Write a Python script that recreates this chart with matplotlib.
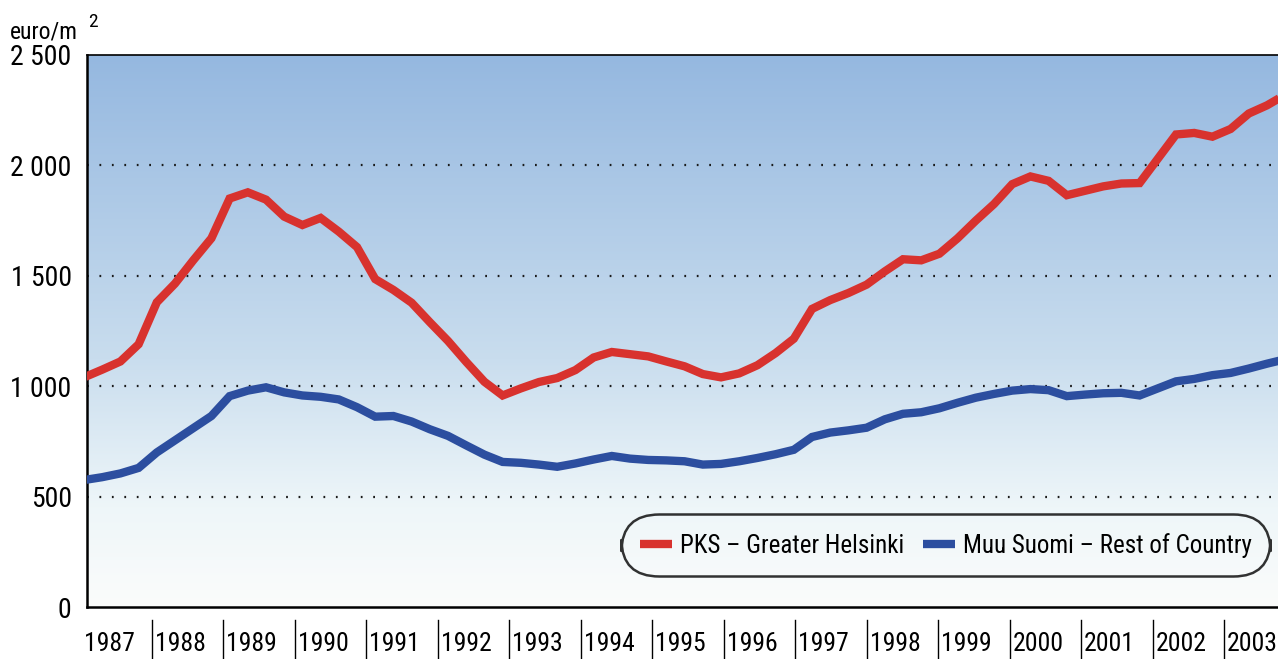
import matplotlib
matplotlib.use("Agg")
import matplotlib.pyplot as plt
import numpy as np
from matplotlib.colors import LinearSegmentedColormap
from matplotlib import font_manager as fm

# pick a condensed sans if available
def pick_font():
    prefs = ["Liberation Sans Narrow", "Roboto Condensed", "Open Sans Condensed",
             "Noto Sans Condensed", "DejaVu Sans Condensed"]
    entries = fm.fontManager.ttflist
    for p in prefs:
        for e in entries:
            if e.name == p and e.weight in (400, "normal", "regular") and e.style == "normal":
                return e.fname
    for e in entries:
        if (e.stretch in ("condensed", "semi-condensed") or "Condensed" in e.fname
                or "Narrow" in e.fname) and e.style == "normal" and \
                str(e.weight) in ("400", "normal", "regular") and "Sans" in e.name:
            return e.fname
    return None

FONT_FILE = pick_font()
plt.rcParams['font.family'] = ['Open Sans', 'DejaVu Sans']

def fp(size):
    if FONT_FILE:
        return fm.FontProperties(fname=FONT_FILE, size=size)
    return fm.FontProperties(family=['Open Sans', 'DejaVu Sans'], size=size * 0.88)

# Quarterly data, 1987 Q1 .. 2003 Q3 (euro/m2)
start_year = 1987
pks_helsinki = [
    1040, 1075, 1112, 1190,   # 1987
    1380, 1465, 1570, 1670,   # 1988
    1850, 1878, 1845, 1768,   # 1989
    1730, 1762, 1700, 1630,   # 1990
    1485, 1436, 1378, 1290,   # 1991
    1205, 1110, 1020, 958,    # 1992
    990, 1019, 1037, 1073,    # 1993
    1130, 1155, 1145, 1135,   # 1994
    1112, 1090, 1055, 1040,   # 1995
    1058, 1095, 1150, 1215,   # 1996
    1350, 1390, 1422, 1460,   # 1997
    1520, 1575, 1570, 1600,   # 1998
    1670, 1750, 1825, 1915,   # 1999
    1950, 1930, 1865, 1885,   # 2000
    1905, 1918, 1920, 2030,   # 2001
    2140, 2147, 2130, 2165,   # 2002
    2235, 2272, 2320,         # 2003
]
muu_suomi = [
    575, 588, 605, 630,       # 1987
    700, 755, 810, 865,       # 1988
    955, 980, 995, 972,       # 1989
    958, 952, 940, 905,       # 1990
    862, 865, 840, 805,       # 1991
    775, 732, 690, 657,       # 1992
    653, 645, 635, 650,       # 1993
    668, 684, 672, 666,       # 1994
    664, 660, 645, 648,       # 1995
    660, 675, 692, 712,       # 1996
    770, 790, 800, 812,       # 1997
    850, 875, 882, 900,       # 1998
    925, 948, 965, 980,       # 1999
    987, 982, 955, 962,       # 2000
    968, 970, 958, 990,       # 2001
    1022, 1033, 1050, 1060,   # 2002
    1080, 1102, 1122,         # 2003
]
year_labels = [str(y) for y in range(1987, 2004)]
y_ticks = [0, 500, 1000, 1500, 2000, 2500]
y_tick_labels = ["0", "500", "1 000", "1 500", "2 000", "2 500"]
legend_labels = ["PKS \u2013 Greater Helsinki", "Muu Suomi \u2013 Rest of Country"]
unit_label = "euro/m"

RED = "#d8322e"
BLUE = "#2c4e9f"

t = start_year + (np.arange(len(pks_helsinki)) + 0.5) / 4.0

fig = plt.figure(figsize=(12.78, 6.59), dpi=100)
fig.patch.set_facecolor("white")
AX_W_PX = 1191.0
ax = fig.add_axes([87 / 1278, 52 / 659, AX_W_PX / 1278, 552 / 659])

x_lo, x_hi = 1987.166, 2003.526
ax.set_xlim(x_lo, x_hi)
ax.set_ylim(0, 2500)

# background gradient
cmap = LinearSegmentedColormap.from_list(
    "bg", [(0.0, "#fbfcfb"), (0.18, "#eef6f9"), (0.45, "#c9ddee"), (1.0, "#95b8e0")])
grad = np.linspace(0, 1, 256).reshape(-1, 1)
ax.imshow(grad, extent=[x_lo, x_hi, 0, 2500], origin="lower", aspect="auto",
          cmap=cmap, zorder=0)

# grid
for yv in y_ticks[1:-1]:
    ax.axhline(yv, color="#1a1a1a", lw=1.6, ls=(0, (0.8, 4.8)), zorder=1)

l1, = ax.plot(t, pks_helsinki, color=RED, lw=6, solid_joinstyle="miter",
              solid_capstyle="butt", zorder=3)
l2, = ax.plot(t, muu_suomi, color=BLUE, lw=6, solid_joinstyle="miter",
              solid_capstyle="butt", zorder=3)

for s in ["left", "bottom", "top"]:
    ax.spines[s].set_color("black")
ax.spines["left"].set_linewidth(1.8)
ax.spines["bottom"].set_linewidth(1.8)
ax.spines["top"].set_linewidth(1.2)
ax.spines["right"].set_visible(False)

ax.set_yticks(y_ticks)
ax.set_yticklabels(y_tick_labels)
for lab in ax.get_yticklabels():
    lab.set_fontproperties(fp(20))
ax.tick_params(axis="y", length=0, pad=11)
ax.set_xticks([])

# year separators & labels in a strip below the axis (axes-fraction layout)
first_sep = 65.0 / AX_W_PX      # position of the 1988 separator
sep_step = 71.47 / AX_W_PX      # spacing of the year separators
for i, lab in enumerate(year_labels):
    xs = first_sep + (i - 1) * sep_step
    if i > 0:
        ax.plot([xs, xs], [-0.024, -0.095], transform=ax.transAxes, color="black",
                lw=1.0, clip_on=False)
    ax.text(xs + 3.0 / AX_W_PX, -0.080, lab, transform=ax.transAxes,
            fontproperties=fp(18.5), ha="left", va="baseline", clip_on=False)

# unit label
fig.text(10 / 1278, 1 - 39 / 659, unit_label, fontproperties=fp(17),
         ha="left", va="baseline")
fig.text(88 / 1278, 1 - 27 / 659, "2", fontproperties=fp(14),
         ha="left", va="baseline")

leg = ax.legend([l1, l2], legend_labels, ncol=2, loc="center",
                bbox_to_anchor=(0.721, 0.112), prop=fp(18),
                frameon=True, handlelength=1.3, handletextpad=0.3,
                columnspacing=0.75, borderpad=0.5)
fr = leg.get_frame()
fr.set_edgecolor("black")
fr.set_facecolor("none")
fr.set_linewidth(1.8)
fr.set_boxstyle("round", pad=0.25, rounding_size=1.5)
for h in leg.get_lines():
    h.set_linewidth(6)

fig.savefig("out.png", dpi=100)
